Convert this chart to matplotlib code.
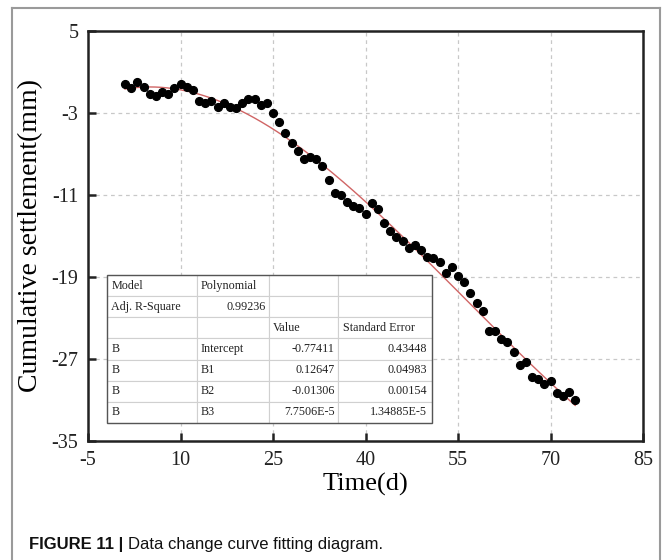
import matplotlib
matplotlib.use("Agg")
import matplotlib.pyplot as plt
from matplotlib.lines import Line2D
from matplotlib.patches import Rectangle
import numpy as np

# ---- data ----
time_d = list(range(1, 75))
settlement = [
    -0.20, -0.59, -0.00, -0.43, -1.15, -1.34, -0.92, -1.15, -0.59, -0.17,
    -0.49, -0.76, -1.80, -2.05, -1.80, -2.39, -2.05, -2.39, -2.54, -2.05,
    -1.63, -1.66, -2.22, -2.05, -3.03, -3.91, -4.92, -5.90, -6.68, -7.52,
    -7.26, -7.52, -8.17, -9.54, -10.78, -10.97, -11.71, -12.07, -12.30, -12.88,
    -11.81, -12.37, -13.76, -14.51, -15.13, -15.46, -16.14, -15.88, -16.37, -17.08,
    -17.18, -17.57, -18.64, -18.00, -18.87, -19.52, -20.59, -21.51, -22.29, -24.24,
    -24.24, -25.08, -25.37, -26.29, -27.59, -27.32, -28.73, -28.95, -29.44, -29.12,
    -30.35, -30.61, -30.25, -31.00,
]
# polynomial fit coefficients (Intercept, B1, B2, B3)
coef_values = [-0.77411, 0.12647, -0.01306, 7.7506e-5]
coef_labels = ["Value", "-0.77411", "0.12647", "-0.01306", "7.7506E-5"]
coef_errors = ["Standard Error", "0.43448", "0.04983", "0.00154", "1.34885E-5"]
coef_names = ["Intercept", "B1", "B2", "B3"]
adj_r2 = "0.99236"

x_ticks = [-5, 10, 25, 40, 55, 70, 85]
y_ticks = [5, -3, -11, -19, -27, -35]

serif = ["Liberation Serif", "DejaVu Serif"]
sans = ["Liberation Sans", "DejaVu Sans"]

fig = plt.figure(figsize=(6.64, 5.60), dpi=100)
ax = fig.add_axes([88 / 664, 1 - 441 / 560, (643 - 88) / 664, (441 - 31) / 560])

ax.set_xlim(-5, 85)
ax.set_ylim(-35, 5)
ax.set_xticks(x_ticks)
ax.set_yticks(y_ticks)
ax.set_xticklabels([str(v) for v in x_ticks], fontfamily=serif, fontsize=14.5)
ax.set_yticklabels([str(v) for v in y_ticks], fontfamily=serif, fontsize=14.5)
ax.tick_params(direction="in", length=6, width=1.8, top=False, right=False, pad=7,
               colors="#222222")
for s in ax.spines.values():
    s.set_linewidth(1.8)
    s.set_color("#222222")

# grid only at interior ticks
for xv in x_ticks[1:-1]:
    ax.axvline(xv, color="#c8c8c8", lw=0.9, ls=(0, (3, 3)), zorder=0)
for yv in y_ticks[1:-1]:
    ax.axhline(yv, color="#c8c8c8", lw=0.9, ls=(0, (3, 3)), zorder=0)

# fitted curve
xf = np.linspace(min(time_d), max(time_d), 300)
yf = np.polyval(coef_values[::-1], xf)
ax.plot(xf, yf, color="#d06565", lw=1.0, zorder=2)
ax.plot(time_d, settlement, "o", color="black", ms=5.6, zorder=3)

ax.set_xlabel("Time(d)", fontfamily=serif, fontsize=19, labelpad=2)
ax.set_ylabel("Cumulative settlement(mm)", fontfamily=serif, fontsize=20, labelpad=6)

# ---- fit table ----
rows = [
    ["Model", "Polynomial", "", ""],
    ["Adj. R-Square", adj_r2, "", ""],
    ["", "", coef_labels[0], coef_errors[0]],
]
for i, nm in enumerate(coef_names):
    rows.append(["B", nm, coef_labels[i + 1], coef_errors[i + 1]])

tl, tr, ttop, tbot = 106.7, 431.7, 275, 423
bbox = [(tl - 88) / 555, (441 - tbot) / 410, (tr - tl) / 555, (tbot - ttop) / 410]
colw = [90, 72.6, 69, 93.4]
tot = sum(colw)
tab = ax.table(cellText=rows, colWidths=[c / tot for c in colw], bbox=bbox,
               cellLoc="left", zorder=5)
tab.auto_set_font_size(False)
for (r, c), cell in tab.get_celld().items():
    cell.set_edgecolor("#d0d0d0")
    cell.set_linewidth(0.8)
    cell.set_facecolor("white")
    cell.PAD = 0.05
    txt = cell.get_text()
    txt.set_fontfamily(serif)
    txt.set_fontsize(8.7)
    txt.set_color("#222222")
    right = (r == 1 and c == 1) or (r >= 3 and c >= 2)
    if right:
        cell._loc = "right"
        txt.set_ha("right")
ax.add_patch(Rectangle((bbox[0], bbox[1]), bbox[2], bbox[3], transform=ax.transAxes,
                       fill=False, ec="#555555", lw=1.0, zorder=6))

# ---- figure frame ----
fc = "#9a9a9a"
fig.add_artist(Line2D([12 / 664, 12 / 664], [0, 1 - 8 / 560], color=fc, lw=1.5))
fig.add_artist(Line2D([660 / 664, 660 / 664], [0, 1 - 8 / 560], color=fc, lw=1.5))
fig.add_artist(Line2D([12 / 664, 660 / 664], [1 - 8 / 560, 1 - 8 / 560], color=fc, lw=1.5))

# ---- caption ----
cap_y = 1 - 549 / 560
t1 = fig.text(29 / 664, cap_y, "FIGURE 11 | ", fontfamily=sans,
              fontsize=12, fontweight="bold", va="baseline", color="#111111")
fig.canvas.draw()
bb = t1.get_window_extent(fig.canvas.get_renderer())
fig.text(bb.x1 / fig.bbox.width, cap_y, "Data change curve fitting diagram.",
         fontfamily=sans, fontsize=12, va="baseline", color="#111111")

fig.savefig("out.png", dpi=100)
